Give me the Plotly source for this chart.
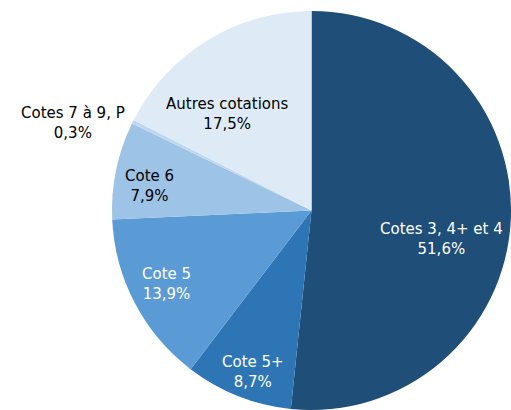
import plotly.graph_objects as go

labels = ["Cotes 3, 4+ et 4", "Cote 5+", "Cote 5", "Cote 6", "Cotes 7 à 9, P", "Autres cotations"]
values = [51.6, 8.7, 13.9, 7.9, 0.3, 17.5]
colors = ["#1F4E79", "#2E75B6", "#5B9BD5", "#9DC3E6", "#BDD7EE", "#DEEBF7"]
text_colors = ["white", "white", "white", "black", "black", "black"]

pct = [f"{v:.1f}".replace(".", ",") + "%" for v in values]
texts = [f"{l}<br>{p}" for l, p in zip(labels, pct)]

W, H = 511, 410

# label centres (window pixels), layout only
label_pos = [(441, 239), (253, 372), (166, 284), (149, 186), (73, 123), (227, 114)]

fig = go.Figure(go.Pie(
    labels=labels, values=values, textinfo="none",
    sort=False, direction="clockwise", rotation=0,
    marker=dict(colors=colors, line=dict(width=0)),
    domain=dict(x=[0.2192, 1.0], y=[0.0, 0.9732]),
    showlegend=False, hoverinfo="none",
))

for t, c, (px, py) in zip(texts, text_colors, label_pos):
    fig.add_annotation(text=t, x=px / W, y=1 - py / H,
                       xref="paper", yref="paper", xanchor="center", yanchor="middle",
                       showarrow=False, align="center",
                       font=dict(family="DejaVu Sans", size=15, color=c))

fig.update_layout(width=W, height=H, margin=dict(l=0, r=0, t=0, b=0),
                  paper_bgcolor="white", plot_bgcolor="white")
fig.write_html("out.html", config={"displayModeBar": False},
               post_script="document.body.style.margin='0';document.body.style.overflow='hidden';")
